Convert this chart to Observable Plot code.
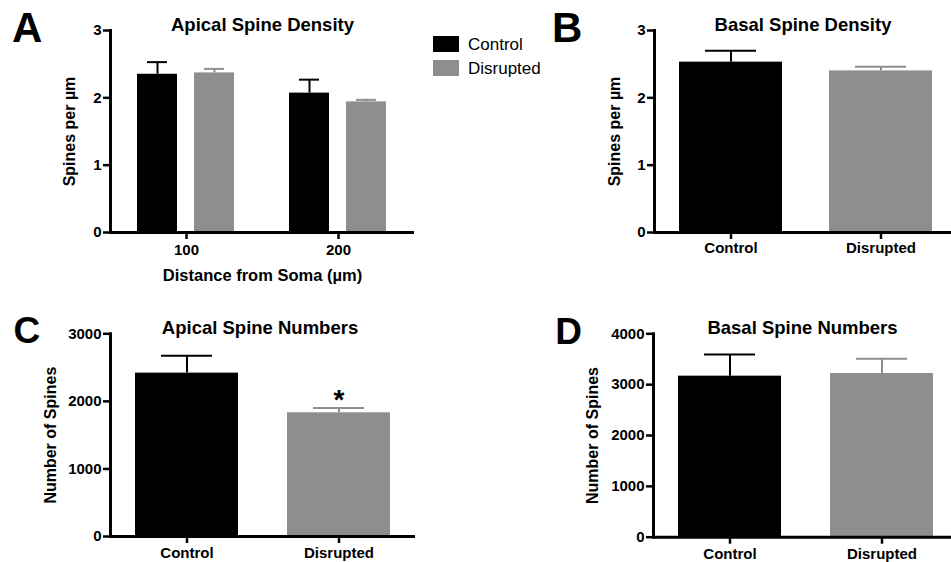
<!DOCTYPE html>
<html><head><meta charset="utf-8">
<script src="https://cdn.jsdelivr.net/npm/d3@7"></script>
<script src="https://cdn.jsdelivr.net/npm/@observablehq/plot@0.6"></script>
<style>
html,body{margin:0;padding:0;background:#fff;}
#wrap{position:relative;width:951px;height:562px;overflow:hidden;font-family:"Liberation Sans",Arial,sans-serif;color:#000;background:#fff;}
.panel{position:absolute;}
.letter{position:absolute;font-weight:bold;line-height:1;white-space:nowrap;}
.leg{position:absolute;font-size:17px;line-height:1;white-space:nowrap;}
.sw{position:absolute;width:26px;height:16px;}
</style></head><body><div id="wrap"></div>
<script>
// ---- data ----
const groups = ["Control", "Disrupted"];
const groupColors = ["#000000", "#8e8e8e"];
const distances = ["100", "200"];
const apicalDensityControl = [2.35, 2.07];
const apicalDensityControlErr = [0.18, 0.20];
const apicalDensityDisrupted = [2.37, 1.94];
const apicalDensityDisruptedErr = [0.06, 0.03];
const basalDensity = [2.53, 2.40];
const basalDensityErr = [0.17, 0.06];
const apicalNumbers = [2418, 1831];
const apicalNumbersErr = [256, 69];
const apicalNumbersSig = ["", "*"];
const basalNumbers = [3167, 3220];
const basalNumbersErr = [426, 288];
const densityTicks = [0, 1, 2, 3];
const apicalNumberTicks = [0, 1000, 2000, 3000];
const basalNumberTicks = [0, 1000, 2000, 3000, 4000];
const panelLetters = ["A", "B", "C", "D"];

const FONT = '"Liberation Sans", Arial, Helvetica, sans-serif';
const baseStyle = {fontFamily: FONT, color: "black", background: "white", overflow: "visible"};
const axisStyle = {stroke: "black", strokeWidth: 2.5, tickSize: 7, fontSize: 15, fontWeight: "bold"};
const topOf = d => d.mean + d.err;

const wrap = document.getElementById("wrap");
function place(node, left, top) {
  const div = document.createElement("div");
  div.className = "panel";
  div.style.left = left + "px";
  div.style.top = top + "px";
  div.appendChild(node);
  wrap.appendChild(div);
}

// ---- Panel A (grouped, faceted by distance) ----
const aData = [];
distances.forEach((d, i) => {
  aData.push({distance: d, group: groups[0], mean: apicalDensityControl[i], err: apicalDensityControlErr[i]});
  aData.push({distance: d, group: groups[1], mean: apicalDensityDisrupted[i], err: apicalDensityDisruptedErr[i]});
});

const plotA = Plot.plot({
  width: 475, height: 290,
  marginLeft: 110, marginRight: 61, marginTop: 30, marginBottom: 58,
  axis: null,
  style: baseStyle,
  fx: {domain: distances, padding: 0},
  x: {domain: groups, paddingInner: 0.29, paddingOuter: 0.478},
  y: {domain: [0, 3]},
  color: {domain: groups, range: groupColors},
  marks: [
    Plot.ruleX(aData, {fx: "distance", x: "group", y1: "mean", y2: topOf, stroke: "group", strokeWidth: 2}),
    Plot.tickY(aData, {fx: "distance", x: "group", y: topOf, stroke: "group", strokeWidth: 2, insetLeft: 10, insetRight: 10}),
    Plot.barY(aData, {fx: "distance", x: "group", y: "mean", fill: "group"}),
    Plot.ruleY([0], {stroke: "black", strokeWidth: 3}),
    Plot.frame({anchor: "left", stroke: "black", strokeWidth: 3, facetAnchor: "left"}),
    Plot.axisY({ticks: densityTicks, tickFormat: "d", label: null, ...axisStyle, tickPadding: 2}),
    Plot.axisY({ticks: [], tickSize: 0, label: "Spines per µm", labelAnchor: "center", labelOffset: 47, labelArrow: "none", fontSize: 16, fontWeight: "bold"}),
    Plot.axisFx({anchor: "bottom", label: null, ...axisStyle, tickPadding: 5}),
    Plot.axisFx({anchor: "bottom", ticks: [], tickSize: 0, label: "Distance from Soma (µm)", labelAnchor: "center", labelOffset: 48, labelArrow: "none", fontSize: 16.5, fontWeight: "bold"}),
    Plot.text(["Apical Spine Density"], {frameAnchor: "top", lineAnchor: "bottom", fontSize: 18.5, fontWeight: "bold", facet: "super"})
  ]
});
place(plotA, 0, 0);

// ---- Simple two-bar panels ----
function simplePanel(o) {
  const data = groups.map((g, i) => ({group: g, mean: o.means[i], err: o.errs[i], sig: o.sig ? o.sig[i] : ""}));
  return Plot.plot({
    width: o.width, height: o.height,
    marginLeft: o.ml, marginRight: o.mr, marginTop: o.mt, marginBottom: o.mb,
    axis: null,
    style: baseStyle,
    x: {domain: groups, paddingInner: o.pi, paddingOuter: o.po, align: o.align},
    y: {domain: o.ydomain},
    color: {domain: groups, range: groupColors},
    marks: [
      Plot.ruleX(data, {x: "group", y1: "mean", y2: topOf, stroke: "group", strokeWidth: 2}),
      Plot.tickY(data, {x: "group", y: topOf, stroke: "group", strokeWidth: 2, insetLeft: o.cap, insetRight: o.cap}),
      Plot.barY(data, {x: "group", y: "mean", fill: "group"}),
      Plot.ruleY([0], {stroke: "black", strokeWidth: 3}),
      Plot.frame({anchor: "left", stroke: "black", strokeWidth: 3}),
      Plot.axisY({ticks: o.yticks, tickFormat: "d", label: null, ...axisStyle, tickPadding: 2}),
      Plot.axisY({ticks: [], tickSize: 0, label: o.ylabel, labelAnchor: "center", labelOffset: o.lo, labelArrow: "none", fontSize: 16, fontWeight: "bold"}),
      Plot.axisX({ticks: groups, label: null, ...axisStyle, tickPadding: o.xpad}),
      Plot.text([o.title], {frameAnchor: "top", lineAnchor: "bottom", fontSize: 18.5, fontWeight: "bold", dx: o.tdx || 0}),
      o.sig ? Plot.text(data, {x: "group", y: topOf, text: "sig", lineAnchor: "bottom", fontSize: 28, fontWeight: "bold", dy: 1}) : null
    ]
  });
}

place(simplePanel({
  means: basalDensity, errs: basalDensityErr,
  width: 476, height: 290, ml: 179, mr: 0, mt: 30, mb: 58,
  pi: 0.311, po: 0.139, align: 0.571, cap: 26,
  ydomain: [0, 3], yticks: densityTicks, ylabel: "Spines per µm", lo: 46,
  xpad: 3, title: "Basal Spine Density"
}), 475, 0);

place(simplePanel({
  means: apicalNumbers, errs: apicalNumbersErr, sig: apicalNumbersSig,
  width: 475, height: 272, ml: 110, mr: 60, mt: 43.3, mb: 26,
  pi: 0.321, po: 0.16, align: 0.51, cap: 26,
  ydomain: [0, 3000], yticks: apicalNumberTicks, ylabel: "Number of Spines", lo: 66,
  xpad: 4, title: "Apical Spine Numbers", tdx: -3
}), 0, 290);

place(simplePanel({
  means: basalNumbers, errs: basalNumbersErr,
  width: 476, height: 272, ml: 178, mr: 0, mt: 43.3, mb: 25.3,
  pi: 0.322, po: 0.141, align: 0.581, cap: 26,
  ydomain: [0, 4000], yticks: basalNumberTicks, ylabel: "Number of Spines", lo: 67,
  xpad: 4, title: "Basal Spine Numbers"
}), 475, 290);

// ---- panel letters ----
const letterPos = [
  {left: 12, top: 7.4, size: 42},
  {left: 552, top: 7.4, size: 42},
  {left: 13.4, top: 312.2, size: 37},
  {left: 555.3, top: 312.7, size: 37}
];
panelLetters.forEach((t, i) => {
  const el = document.createElement("div");
  el.className = "letter";
  el.textContent = t;
  el.style.left = letterPos[i].left + "px";
  el.style.top = letterPos[i].top + "px";
  el.style.fontSize = letterPos[i].size + "px";
  wrap.appendChild(el);
});

// ---- legend for panel A ----
const legendTops = [36, 60];
groups.forEach((g, i) => {
  const sw = document.createElement("div");
  sw.className = "sw";
  sw.style.left = "433px";
  sw.style.top = legendTops[i] + "px";
  sw.style.background = groupColors[i];
  wrap.appendChild(sw);
  const tx = document.createElement("div");
  tx.className = "leg";
  tx.textContent = g;
  tx.style.left = "468px";
  tx.style.top = (legendTops[i] + 14 - 0.8465 * 17) + "px";
  wrap.appendChild(tx);
});
</script></body></html>
